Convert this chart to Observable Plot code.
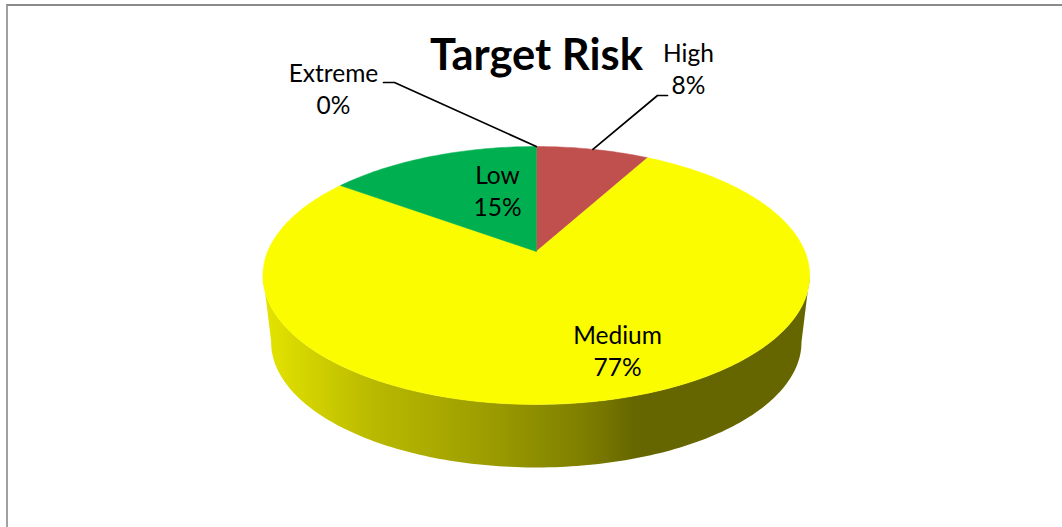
<!DOCTYPE html>
<html>
<head>
<meta charset="utf-8">
<script src="https://cdn.jsdelivr.net/npm/d3@7"></script>
<script src="https://cdn.jsdelivr.net/npm/@observablehq/plot@0.6"></script>
<style>
  html, body { margin: 0; background: #fff; overflow: hidden; }
  #frame { position: absolute; left: 6px; top: 4px; right: 0; bottom: 0;
           border-top: 2px solid #8a8a8a; border-left: 2px solid #a0a0a0; }
  #chart { position: absolute; left: 0; top: 0; }
  #chart svg { display: block; background: transparent; }
</style>
</head>
<body>
<div id="frame"></div>
<div id="chart"></div>
<script>
// Risk shares, clockwise from twelve o'clock
const categories = ["Extreme", "High", "Medium", "Low"];
const shares = [0, 8, 77, 15];
const sliceColors = ["#7f7f7f", "#C0504D", "#FCFC00", "#00B050"];

// Tilted disc: a projective view of a unit circle
const W = 1062, H = 527;
const centerX = 535.8, centerY = 251;
const spanX = 268.6, spanY = 124.5, tilt = 0.186;
const baseScale = 0.97, baseDrop = 67.6;

function rim(angle, scale = 1, drop = 0) {
  const u = Math.sin(angle), v = -Math.cos(angle), w = 1 - tilt * v;
  return {
    x: centerX + scale * spanX * u / w,
    y: centerY + drop + scale * spanY * v / w
  };
}

// Slice angles from the shares
const arcs = d3.pie().sort(null).value((d, i) => shares[i])(categories);
const degree = Math.PI / 180;

const slicePoints = arcs.filter(a => a.endAngle > a.startAngle).flatMap(a => {
  const pts = [{name: a.data, x: centerX, y: centerY}];
  const n = Math.ceil((a.endAngle - a.startAngle) / degree);
  for (let i = 0; i <= n; ++i) {
    const t = a.startAngle + (a.endAngle - a.startAngle) * i / n;
    pts.push({name: a.data, ...rim(t)});
  }
  pts.push({name: a.data, x: centerX, y: centerY});
  return pts;
});

// Front wall: the visible half of the top rim, back along the lower rim
const tangent = Math.acos(-tilt);
const wallAngles = d3.range(tangent, 2 * Math.PI - tangent + degree / 2, degree);
const wallPoints = [
  ...wallAngles.map(t => rim(t)),
  ...wallAngles.slice().reverse().map(t => rim(t, baseScale, baseDrop))
];

const wallStops = [
  [0, "#e4e400"], [0.2, "#b9b900"], [0.4, "#9e9e00"],
  [0.58, "#808000"], [0.63, "#747400"], [0.68, "#666600"], [1, "#666600"]
];

function wallGradient() {
  const defs = d3.create("svg:defs");
  const g = defs.append("linearGradient")
    .attr("id", "wallShade")
    .attr("gradientUnits", "userSpaceOnUse")
    .attr("x1", centerX - 272).attr("x2", centerX + 272)
    .attr("y1", 0).attr("y2", 0);
  for (const [offset, color] of wallStops) {
    g.append("stop").attr("offset", offset).attr("stop-color", color);
  }
  return defs.node();
}

const middle = name => {
  const a = arcs[categories.indexOf(name)];
  return (a.startAngle + a.endAngle) / 2;
};

// Leader lines for the labels placed outside the disc
const leaders = [
  {name: "Extreme", ...rim(middle("Extreme"))},
  {name: "Extreme", x: 394, y: 82},
  {name: "Extreme", x: 383, y: 82},
  {name: "High", ...rim(middle("High"))},
  {name: "High", x: 657, y: 95},
  {name: "High", x: 667, y: 95}
];

const labelPlaces = {
  Extreme: [333, 87.5],
  High: [688, 67.5],
  Medium: [617, 349.5],
  Low: [497, 189.5]
};
const labels = categories.map((name, i) => ({
  x: labelPlaces[name][0],
  y: labelPlaces[name][1],
  text: `${name}\n${shares[i]}%`
}));

const chart = Plot.plot({
  width: W,
  height: H,
  margin: 0,
  x: {domain: [0, W], range: [0, W], axis: null},
  y: {domain: [0, H], range: [0, H], axis: null},
  color: {domain: categories, range: sliceColors},
  style: {background: "transparent"},
  marks: [
    wallGradient,
    Plot.line(wallPoints, {x: "x", y: "y", fill: "url(#wallShade)", stroke: null}),
    Plot.line(slicePoints, {x: "x", y: "y", z: "name", fill: "name", stroke: "name", strokeWidth: 0.5}),
    Plot.line(leaders, {x: "x", y: "y", z: "name", stroke: "#000", strokeWidth: 1.7, curve: "linear"}),
    Plot.text(labels, {
      x: "x", y: "y", text: "text",
      fontFamily: "Lato", fontSize: 24.5, lineHeight: 1.27, fill: "#000", textAnchor: "middle"
    }),
    Plot.text(["Target Risk"], {
      x: () => 536, y: () => 56,
      fontFamily: "Lato", fontSize: 43.5, fontWeight: 700, fill: "#000", textAnchor: "middle"
    })
  ]
});

document.getElementById("chart").append(chart);
</script>
</body>
</html>
